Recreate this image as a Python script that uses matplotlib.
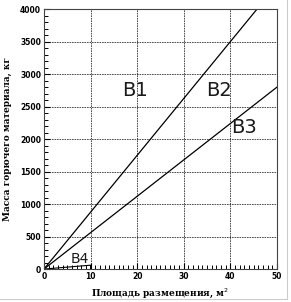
import numpy as np
import matplotlib
matplotlib.use("Agg")
import matplotlib.pyplot as plt
from matplotlib.ticker import MultipleLocator

# series (area, m2 -> mass, kg)
b12_x = [0, 50]
b12_y = [0, 4375]
b3_x = [0, 50]
b3_y = [0, 2800]
b4_x = [0, 10, 10]
b4_y = [0, 60, 0]

labels = ["B1", "B2", "B3", "B4"]
label_x = [19.5, 37.6, 43.0, 7.6]
label_y = [2750, 2750, 2180, 150]
label_size = [14, 14, 14, 10]

fig = plt.figure(figsize = (2.91, 3.02), dpi = 100)
ax = fig.add_axes([0.151, 0.109, 0.801, 0.861])

ax.plot(b12_x, b12_y, color = "k", lw = 0.9)
ax.plot(b3_x, b3_y, color = "k", lw = 0.9)
ax.plot(b4_x, b4_y, color = "k", lw = 0.8)

for t, x, y, s in zip(labels, label_x, label_y, label_size):
    ax.text(x, y, t, fontsize = s, ha = "center", va = "center",
            family = "DejaVu Sans", fontweight = "normal", color = "#1a1a1a")

ax.set_xlim(0, 50)
ax.set_ylim(0, 4000)
ax.xaxis.set_major_locator(MultipleLocator(10))
ax.xaxis.set_minor_locator(MultipleLocator(1))
ax.yaxis.set_major_locator(MultipleLocator(500))
ax.yaxis.set_minor_locator(MultipleLocator(100))
ax.tick_params(which = "both", direction = "in", labelsize = 5.5, pad = 2)
ax.tick_params(which = "major", length = 4, width = 0.8)
ax.tick_params(which = "minor", length = 3, width = 0.7)
for lab in ax.get_xticklabels() + ax.get_yticklabels():
    lab.set_fontweight("bold")

ax.grid(True, which = "major", color = "k", ls = (0, (2, 1)), lw = 0.6, alpha = 0.8)
for a in ["bottom", "top", "right", "left"]:
    ax.spines[a].set_linewidth(0.8)
    ax.spines[a].set_linestyle((0, (3, 1)))
    ax.spines[a].set_color("#444444")

ax.set_xlabel("Площадь размещения, м$^2$", fontsize = 6.5, fontweight = "bold",
              family = "DejaVu Serif", labelpad = 4)
ax.set_ylabel("Масса горючего материала, кг", fontsize = 6.5, fontweight = "bold",
              family = "DejaVu Serif", labelpad = 6)

# faint frame around the scan
fig.add_artist(plt.Line2D([0.986, 0.986], [0.01, 1.0], color = "#cccccc", lw = 0.8))
fig.add_artist(plt.Line2D([0.0, 0.986], [0.01, 0.01], color = "#cccccc", lw = 0.8))

fig.savefig("out.png", dpi = 100, facecolor = "w")
